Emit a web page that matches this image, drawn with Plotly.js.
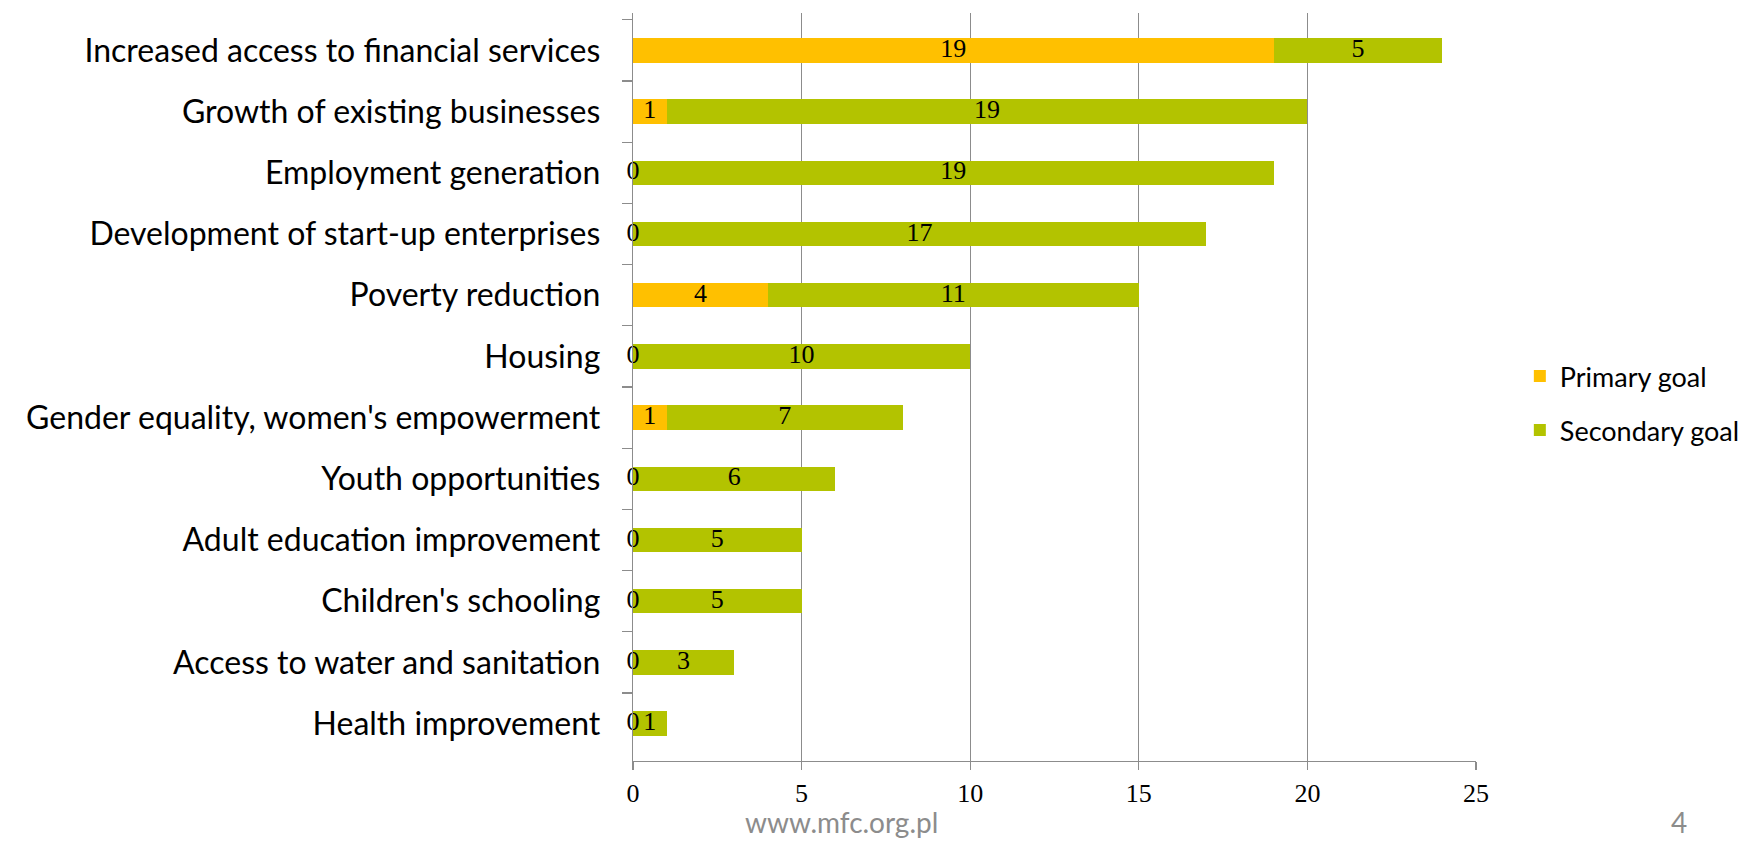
<!DOCTYPE html>
<html>
<head>
<meta charset="utf-8">
<script src="https://cdn.plot.ly/plotly-3.0.1.min.js"></script>
<style>html,body{margin:0;padding:0;background:#fff;}#chart{width:1741px;height:842px;}
#chart text{font-variant-ligatures:none;}</style>
</head>
<body>
<div id="chart"></div>
<script>
var categories = [
  "Increased access to financial services",
  "Growth of existing businesses",
  "Employment generation",
  "Development of start-up enterprises",
  "Poverty reduction",
  "Housing",
  "Gender equality, women's empowerment",
  "Youth opportunities",
  "Adult education improvement",
  "Children's schooling",
  "Access to water and sanitation",
  "Health improvement"
];
var primaryGoal = [19, 1, 0, 0, 4, 0, 1, 0, 0, 0, 0, 0];
var secondaryGoal = [5, 19, 19, 17, 11, 10, 7, 6, 5, 5, 3, 1];
var seriesNames = ["Primary goal", "Secondary goal"];
var xTicks = [0, 5, 10, 15, 20, 25];

var colPrimary = "#FFC000";
var colSecondary = "#B3C300";
var gridCol = "#8c8c8c";

var labelX = [], labelY = [], labelT = [];
for (var i = 0; i < categories.length; i++) {
  labelX.push(primaryGoal[i] / 2); labelY.push(categories[i]); labelT.push(String(primaryGoal[i]));
  labelX.push(primaryGoal[i] + secondaryGoal[i] / 2); labelY.push(categories[i]); labelT.push(String(secondaryGoal[i]));
}

var traces = [
  {type: "bar", orientation: "h", name: seriesNames[0], y: categories, x: primaryGoal,
   marker: {color: colPrimary}, legendgroup: "a", hoverinfo: "none"},
  {type: "bar", orientation: "h", name: seriesNames[1], y: categories, x: secondaryGoal,
   marker: {color: colSecondary}, legendgroup: "b", hoverinfo: "none"},
  {type: "scatter", mode: "text", x: labelX, y: labelY, text: labelT, showlegend: false,
   cliponaxis: false, hoverinfo: "none",
   textfont: {family: "Liberation Serif, Times New Roman, serif", size: 26, color: "#000"}}
];

var layout = {
  width: 1741, height: 842,
  margin: {l: 633, r: 265, t: 13, b: 81, pad: 0, autoexpand: false},
  paper_bgcolor: "#fff", plot_bgcolor: "#fff",
  barmode: "stack", bargap: 0.6,
  showlegend: true,
  legend: {x: 1.052, xanchor: "left", y: 0.478, yanchor: "middle",
    font: {family: "Lato, sans-serif", size: 27, color: "#000"},
    traceorder: "grouped", tracegroupgap: 16, bgcolor: "rgba(0,0,0,0)"},
  xaxis: {range: [0, 25], tickvals: xTicks, ticktext: xTicks.map(String),
    showgrid: true, gridcolor: gridCol, gridwidth: 1.3, zeroline: false,
    showline: true, linecolor: gridCol, linewidth: 1.3,
    ticks: "outside", ticklen: 8, tickcolor: gridCol, tickwidth: 1.3,
    ticklabelstandoff: 0, automargin: false,
    tickfont: {family: "Liberation Serif, Times New Roman, serif", size: 26, color: "#000"}},
  yaxis: {type: "category", categoryorder: "array", categoryarray: categories,
    autorange: "reversed", tickson: "boundaries", automargin: false,
    showgrid: false, zeroline: false,
    showline: true, linecolor: gridCol, linewidth: 1.3,
    ticks: "outside", ticklen: 10, tickcolor: gridCol, tickwidth: 1.3,
    ticklabelstandoff: 25,
    tickfont: {family: "Lato, sans-serif", size: 32, color: "#000"}},
  annotations: [
    {text: "www.mfc.org.pl", xref: "paper", yref: "paper", x: (841 - 633) / 843, y: -(841 - 761) / 748,
     xanchor: "center", yanchor: "bottom", showarrow: false,
     font: {family: "Lato, sans-serif", size: 28, color: "#8c8c8c"}},
    {text: "4", xref: "paper", yref: "paper", x: (1679 - 633) / 843, y: -(841 - 761) / 748,
     xanchor: "center", yanchor: "bottom", showarrow: false,
     font: {family: "Lato, sans-serif", size: 28, color: "#8c8c8c"}}
  ]
};

Plotly.newPlot("chart", traces, layout, {displayModeBar: false, staticPlot: true});
</script>
</body>
</html>
